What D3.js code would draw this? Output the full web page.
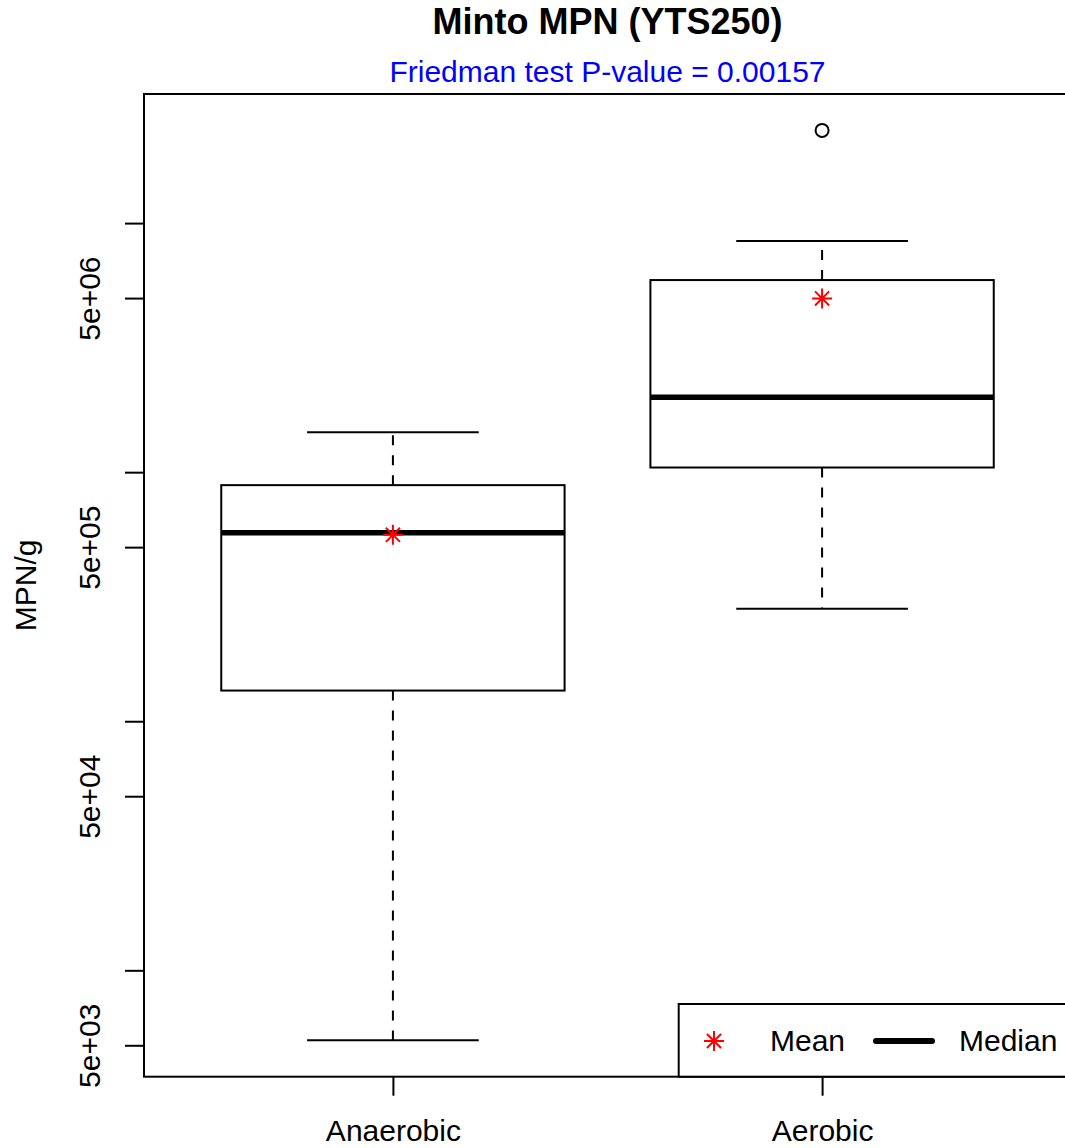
<!DOCTYPE html>
<html lang="en">
<head>
<meta charset="UTF-8">
<title>Minto MPN (YTS250)</title>
<script src="https://d3js.org/d3.v7.min.js"></script>
<style>
  body { margin: 0; background: #fff; }
  text { font-family: "Liberation Sans", Arial, Helvetica, sans-serif; }
</style>
</head>
<body>
<svg id="chart" width="1065" height="1148"></svg>
<script>
// data (MPN/g, log scale)
var groups = ["Anaerobic", "Aerobic"];
var whiskerLow = [5236, 282600];
var q1 = [132800, 1044000];
var median = [570600, 2001000];
var q3 = [887000, 5906000];
var whiskerHigh = [1448000, 8470000];
var means = [560300, 4982000];
var outliers = [[], [23560000]];

var yTicks = [5000, 10000, 50000, 100000, 500000, 1000000, 5000000, 10000000];
var yTickLabels = {5000: "5e+03", 50000: "5e+04", 500000: "5e+05", 5000000: "5e+06"};

var titleText = "Minto MPN (YTS250)";
var subText = "Friedman test P-value = 0.00157";

var svg = d3.select("#chart");
var plotLeft = 144, plotRight = 1071, plotTop = 94, plotBottom = 1076.7;

// R style 4% extension of the data range
var allVals = whiskerLow.concat(whiskerHigh, d3.merge(outliers));
var lmin = Math.log10(d3.min(allVals)), lmax = Math.log10(d3.max(allVals));
var ext = (lmax - lmin) * 0.04;

var x = d3.scaleLinear().domain([0.42, 2.58]).range([plotLeft, plotRight]);
var y = d3.scaleLog().domain([Math.pow(10, lmin - ext), Math.pow(10, lmax + ext)]).range([plotBottom, plotTop]);

var boxW = 0.8, capW = 0.4;

// titles
svg.append("text").attr("x", (plotLeft + plotRight) / 2).attr("y", 34)
  .attr("text-anchor", "middle").attr("font-size", 36).attr("font-weight", "bold")
  .text(titleText);
svg.append("text").attr("x", (plotLeft + plotRight) / 2).attr("y", 82)
  .attr("text-anchor", "middle").attr("font-size", 30).attr("fill", "#0000ff")
  .text(subText);

// y axis label
svg.append("text").attr("transform", "translate(36," + (plotTop + plotBottom) / 2 + ") rotate(-90)")
  .attr("text-anchor", "middle").attr("font-size", 30).text("MPN/g");

// y axis
var yAxis = svg.append("g").attr("transform", "translate(" + plotLeft + ",0)")
  .call(d3.axisLeft(y).tickValues(yTicks).tickSize(19).tickPadding(0)
    .tickFormat(function(d){ return yTickLabels[d] || ""; }));
yAxis.select(".domain").remove();
yAxis.selectAll(".tick line").attr("stroke", "#000").attr("stroke-width", 2);
yAxis.selectAll(".tick text")
  .attr("x", null).attr("dy", null)
  .attr("transform", "translate(-44,0) rotate(-90)")
  .attr("text-anchor", "middle")
  .attr("font-size", 30).attr("fill", "#000")
  .style("font-family", "'Liberation Sans', Arial, sans-serif");

// x axis
var xAxis = svg.append("g").attr("transform", "translate(0," + plotBottom + ")")
  .call(d3.axisBottom(x).tickValues([1, 2]).tickSize(19).tickPadding(0)
    .tickFormat(function(d){ return groups[d - 1]; }));
xAxis.select(".domain").remove();
xAxis.selectAll(".tick line").attr("stroke", "#000").attr("stroke-width", 2);
xAxis.selectAll(".tick text").attr("y", 64).attr("dy", null)
  .attr("font-size", 30).attr("fill", "#000")
  .style("font-family", "'Liberation Sans', Arial, sans-serif");

// boxes
var g = svg.append("g");
groups.forEach(function(name, i) {
  var c = i + 1;
  // whiskers
  g.append("line").attr("x1", x(c)).attr("x2", x(c))
    .attr("y1", y(q1[i])).attr("y2", y(whiskerLow[i]))
    .attr("stroke", "#000").attr("stroke-width", 2).attr("stroke-dasharray", "10,10");
  g.append("line").attr("x1", x(c)).attr("x2", x(c))
    .attr("y1", y(q3[i])).attr("y2", y(whiskerHigh[i]))
    .attr("stroke", "#000").attr("stroke-width", 2).attr("stroke-dasharray", "10,10");
  [whiskerLow[i], whiskerHigh[i]].forEach(function(v) {
    g.append("line").attr("x1", x(c - capW / 2)).attr("x2", x(c + capW / 2))
      .attr("y1", y(v)).attr("y2", y(v)).attr("stroke", "#000").attr("stroke-width", 2);
  });
  // box
  g.append("rect").attr("x", x(c - boxW / 2)).attr("y", y(q3[i]))
    .attr("width", x(c + boxW / 2) - x(c - boxW / 2))
    .attr("height", y(q1[i]) - y(q3[i]))
    .attr("fill", "none").attr("stroke", "#000").attr("stroke-width", 2);
  // median
  g.append("line").attr("x1", x(c - boxW / 2)).attr("x2", x(c + boxW / 2))
    .attr("y1", y(median[i])).attr("y2", y(median[i]))
    .attr("stroke", "#000").attr("stroke-width", 5.5);
  // outliers
  outliers[i].forEach(function(v) {
    g.append("circle").attr("cx", x(c)).attr("cy", y(v)).attr("r", 6.5)
      .attr("fill", "none").attr("stroke", "#000").attr("stroke-width", 2);
  });
});

function starPath(cx, cy, r) {
  var p = d3.path(), d = r / Math.SQRT2;
  p.moveTo(cx - r, cy); p.lineTo(cx + r, cy);
  p.moveTo(cx, cy - r); p.lineTo(cx, cy + r);
  p.moveTo(cx - d, cy - d); p.lineTo(cx + d, cy + d);
  p.moveTo(cx - d, cy + d); p.lineTo(cx + d, cy - d);
  return p.toString();
}

// means
groups.forEach(function(name, i) {
  g.append("path").attr("d", starPath(x(i + 1), y(means[i]), 10))
    .attr("fill", "none").attr("stroke", "#ff0000").attr("stroke-width", 2);
});

// frame
svg.append("rect").attr("x", plotLeft).attr("y", plotTop)
  .attr("width", plotRight - plotLeft).attr("height", plotBottom - plotTop)
  .attr("fill", "none").attr("stroke", "#000").attr("stroke-width", 2);

// legend (bottom right, inside plot)
var lg = svg.append("g");
lg.append("rect").attr("x", 678.7).attr("y", 1004)
  .attr("width", plotRight - 678.7).attr("height", plotBottom - 1004)
  .attr("fill", "#fff").attr("stroke", "#000").attr("stroke-width", 2);
lg.append("path").attr("d", starPath(714, 1041, 10))
  .attr("fill", "none").attr("stroke", "#ff0000").attr("stroke-width", 2);
lg.append("text").attr("x", 770).attr("y", 1051).attr("font-size", 30).text("Mean");
lg.append("line").attr("x1", 876).attr("x2", 932).attr("y1", 1041).attr("y2", 1041)
  .attr("stroke", "#000").attr("stroke-width", 6).attr("stroke-linecap", "round");
lg.append("text").attr("x", 959).attr("y", 1051).attr("font-size", 30).text("Median");
</script>
</body>
</html>
